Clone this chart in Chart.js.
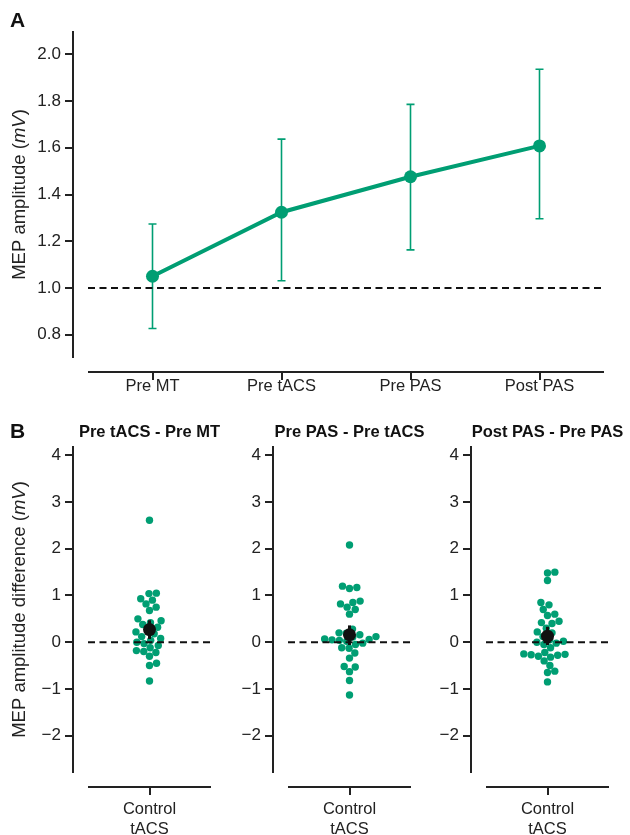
<!DOCTYPE html>
<html><head><meta charset="utf-8">
<script src="https://cdn.jsdelivr.net/npm/chart.js@4"></script>
<style>
body{margin:0;background:#fff;}
#wrap{position:relative;width:630px;height:835px;overflow:hidden;background:#fff;}
canvas{position:absolute;}
</style></head><body>
<div id="wrap">
<canvas id="cA" width="630" height="410" style="left:0;top:0"></canvas>
<canvas id="cB1" width="240" height="435" style="left:0;top:400px"></canvas>
<canvas id="cB2" width="240" height="435" style="left:200px;top:400px"></canvas>
<canvas id="cB3" width="232" height="435" style="left:398px;top:400px"></canvas>
</div>
<script>
// ---------- Data ----------
const A_CATEGORIES = ['Pre MT', 'Pre tACS', 'Pre PAS', 'Post PAS'];
const A_MEAN = [1.05, 1.324, 1.476, 1.608];
const A_LOW = [0.826, 1.031, 1.163, 1.296];
const A_HIGH = [1.274, 1.637, 1.786, 1.936];
const A_YTICKS = [0.8, 1.0, 1.2, 1.4, 1.6, 1.8, 2.0];
const A_YMIN = 0.7, A_YMAX = 2.1;
const A_BASELINE = 1.0;

const B_TITLES = ['Pre tACS - Pre MT', 'Pre PAS - Pre tACS', 'Post PAS - Pre PAS'];
const B_GROUP = ['Control', 'tACS'];
const B_DIFF1 = [2.61, 1.05, 1.04, 0.93, 0.90, 0.82, 0.75, 0.68, 0.50, 0.46, 0.42, 0.38, 0.32, 0.27, 0.22, 0.18, 0.12, 0.08, 0.04, 0.00, -0.03, -0.07, -0.12, -0.18, -0.20, -0.22, -0.30, -0.45, -0.50, -0.83];
const B_DIFF2 = [2.08, 1.20, 1.17, 1.15, 0.88, 0.85, 0.82, 0.75, 0.70, 0.60, 0.28, 0.20, 0.19, 0.16, 0.12, 0.11, 0.07, 0.06, 0.05, 0.04, 0.02, -0.02, -0.05, -0.12, -0.13, -0.23, -0.34, -0.52, -0.53, -0.63, -0.82, -1.13];
const B_DIFF3 = [1.50, 1.48, 1.32, 0.85, 0.80, 0.70, 0.60, 0.57, 0.45, 0.42, 0.40, 0.30, 0.22, 0.20, 0.12, 0.05, 0.02, 0.00, -0.02, -0.05, -0.12, -0.22, -0.25, -0.26, -0.27, -0.28, -0.30, -0.32, -0.40, -0.50, -0.62, -0.65, -0.85];
const B_MEAN = [0.27, 0.16, 0.13];
const B_CI_LOW = [0.07, -0.06, -0.06];
const B_CI_HIGH = [0.47, 0.36, 0.33];
const B_YTICKS = [-2, -1, 0, 1, 2, 3, 4];
const B_YMIN = -2.8, B_YMAX = 4.2;
const B_BASELINE = 0;

// ---------- Style ----------
const GREEN = '#009E73';
const INK = '#222222';
const FONT = '"Liberation Sans", Arial, Helvetica, sans-serif';
Chart.defaults.font.family = FONT;
Chart.defaults.color = INK;

function drawSpines(chart, yTicks) {
  const {ctx, chartArea: a, scales: {x, y}} = chart;
  ctx.save();
  ctx.strokeStyle = INK; ctx.lineWidth = 2;
  const sx = a.left - 15, sy = a.bottom + 14;
  ctx.beginPath();
  ctx.moveTo(sx, y.getPixelForValue(y.max)); ctx.lineTo(sx, y.getPixelForValue(y.min));
  yTicks.forEach(v => { const py = Math.round(y.getPixelForValue(v)); ctx.moveTo(sx - 8, py); ctx.lineTo(sx, py); });
  ctx.moveTo(a.left, sy); ctx.lineTo(a.right, sy);
  x.ticks.forEach((t, i) => { const px = Math.round(x.getPixelForTick(i)); ctx.moveTo(px, sy); ctx.lineTo(px, sy + 8); });
  ctx.stroke();
  ctx.restore();
}
function drawRotatedTitle(ctx, cx, cy, parts, size) {
  ctx.save();
  ctx.translate(cx, cy); ctx.rotate(-Math.PI / 2);
  const fonts = parts.map(p => (p.italic ? 'italic ' : '') + size + 'px ' + FONT);
  let total = 0;
  const w = parts.map((p, i) => { ctx.font = fonts[i]; const m = ctx.measureText(p.text).width; total += m; return m; });
  let x = -total / 2;
  ctx.fillStyle = INK; ctx.textBaseline = 'middle'; ctx.textAlign = 'left';
  parts.forEach((p, i) => { ctx.font = fonts[i]; ctx.fillText(p.text, x, 0); x += w[i]; });
  ctx.restore();
}
function drawBaseline(chart, v) {
  const {ctx, chartArea: a, scales: {y}} = chart;
  const py = Math.round(y.getPixelForValue(v));
  ctx.save();
  ctx.strokeStyle = '#111'; ctx.lineWidth = 2; ctx.setLineDash([7, 4.5]);
  ctx.beginPath(); ctx.moveTo(a.left, py); ctx.lineTo(a.right, py); ctx.stroke();
  ctx.restore();
}
function panelLetter(ctx, t, x, y) {
  ctx.save(); ctx.font = 'bold 21px ' + FONT; ctx.fillStyle = '#111';
  ctx.textBaseline = 'middle'; ctx.textAlign = 'left'; ctx.fillText(t, x, y); ctx.restore();
}
function noEdgePad(s) { s.paddingTop = 0; s.paddingBottom = 0; s.paddingLeft = 0; s.paddingRight = 0; }

// ---------- Panel A ----------
const pluginA = {
  id: 'pA',
  beforeDatasetsDraw(chart) {
    const {ctx, scales: {y}} = chart;
    const meta = chart.getDatasetMeta(0);
    ctx.save();
    ctx.strokeStyle = GREEN; ctx.lineWidth = 1.6;
    ctx.beginPath();
    A_MEAN.forEach((m, i) => {
      const px = meta.data[i].x;
      const lo = y.getPixelForValue(A_LOW[i]), hi = y.getPixelForValue(A_HIGH[i]);
      ctx.moveTo(px, lo); ctx.lineTo(px, hi);
      ctx.moveTo(px - 4, lo); ctx.lineTo(px + 4, lo);
      ctx.moveTo(px - 4, hi); ctx.lineTo(px + 4, hi);
    });
    ctx.stroke(); ctx.restore();
    drawBaseline(chart, A_BASELINE);
  },
  afterDraw(chart) {
    drawSpines(chart, A_YTICKS);
    const a = chart.chartArea;
    drawRotatedTitle(chart.ctx, 20, (a.top + a.bottom) / 2,
      [{text: 'MEP amplitude ('}, {text: 'mV', italic: true}, {text: ')'}], 18.5);
    panelLetter(chart.ctx, 'A', 10, 21);
  }
};
new Chart(document.getElementById('cA'), {
  type: 'line',
  data: {
    labels: A_CATEGORIES,
    datasets: [{
      data: A_MEAN, borderColor: GREEN, backgroundColor: GREEN, borderWidth: 4,
      pointRadius: 6.5, pointBackgroundColor: GREEN, pointBorderWidth: 0, tension: 0
    }]
  },
  options: {
    responsive: false, animation: false,
    layout: {padding: {left: 0, top: 31, right: 26, bottom: 0}},
    plugins: {legend: {display: false}, tooltip: {enabled: false}},
    scales: {
      x: {
        type: 'category', offset: true,
        grid: {display: false}, border: {display: false},
        ticks: {padding: 11, font: {size: 16.5}, color: INK},
        afterFit(s) { s.height = 52; noEdgePad(s); }
      },
      y: {
        min: A_YMIN, max: A_YMAX,
        grid: {display: false}, border: {display: false},
        afterBuildTicks(s) { s.ticks = A_YTICKS.map(v => ({value: v})); },
        ticks: {padding: 19, font: {size: 17}, color: INK, callback: v => Number(v).toFixed(1)},
        afterFit(s) { s.width = 88; noEdgePad(s); }
      }
    }
  },
  plugins: [pluginA]
});

// ---------- Panel B ----------
function swarmOffsets(values, yScale, d) {
  const order = values.map((v, i) => i).sort((p, q) => values[p] - values[q]);
  const placed = [], out = new Array(values.length);
  for (const i of order) {
    const py = yScale.getPixelForValue(values[i]);
    const near = placed.filter(p => Math.abs(p.y - py) < d);
    const cands = [0];
    near.forEach(p => { const dx = Math.sqrt(d * d - (p.y - py) ** 2); cands.push(p.x + dx, p.x - dx); });
    cands.sort((p, q) => Math.abs(p) - Math.abs(q));
    let chosen = cands[cands.length - 1];
    for (const c of cands) {
      if (near.every(p => (p.x - c) ** 2 + (p.y - py) ** 2 >= d * d - 0.01)) { chosen = c; break; }
    }
    placed.push({x: chosen, y: py});
    out[i] = chosen;
  }
  return out;
}

const B_SERIES = [B_DIFF1, B_DIFF2, B_DIFF3];
const B_RIGHTPAD = [29, 29, 21];
['cB1', 'cB2', 'cB3'].forEach((id, k) => {
  const plug = {
    id: 'pB' + k,
    afterDatasetsDraw(chart) {
      const {ctx, scales: {x, y}} = chart;
      const px = x.getPixelForValue(0);
      ctx.save(); ctx.strokeStyle = '#111'; ctx.lineWidth = 3;
      ctx.beginPath(); ctx.moveTo(px, y.getPixelForValue(B_CI_LOW[k])); ctx.lineTo(px, y.getPixelForValue(B_CI_HIGH[k])); ctx.stroke();
      ctx.restore();
    },
    afterDraw(chart) {
      drawSpines(chart, B_YTICKS);
      const {ctx, chartArea: a} = chart;
      ctx.save(); ctx.font = 'bold 16.5px ' + FONT; ctx.fillStyle = '#111';
      ctx.textAlign = 'center'; ctx.textBaseline = 'middle';
      ctx.fillText(B_TITLES[k], (a.left + a.right) / 2, a.top - 14);
      ctx.restore();
      if (k === 0) {
        drawRotatedTitle(ctx, 20, (a.top + a.bottom) / 2,
          [{text: 'MEP amplitude difference ('}, {text: 'mV', italic: true}, {text: ')'}], 18.5);
        panelLetter(ctx, 'B', 10, a.top - 14);
      }
    }
  };
  const chart = new Chart(document.getElementById(id), {
    type: 'scatter',
    data: {
      datasets: [
        {data: [{x: 0, y: B_MEAN[k]}], pointRadius: 6.5, backgroundColor: '#111', borderWidth: 0, order: 0},
        {type: 'line', data: [{x: -1, y: B_BASELINE}, {x: 1, y: B_BASELINE}], borderColor: '#111', borderWidth: 2,
          borderDash: [7, 4.5], pointRadius: 0, order: 1},
        {data: B_SERIES[k].map(v => ({x: 0, y: v})), pointRadius: 3.7, backgroundColor: GREEN, borderWidth: 0, order: 2}
      ]
    },
    options: {
      responsive: false, animation: false,
      layout: {padding: {left: 0, top: 46, right: B_RIGHTPAD[k], bottom: 0}},
      plugins: {legend: {display: false}, tooltip: {enabled: false}},
      scales: {
        x: {
          type: 'linear', min: -1, max: 1,
          grid: {display: false}, border: {display: false},
          afterBuildTicks(s) { s.ticks = [{value: 0}]; },
          ticks: {padding: 18, font: {size: 16.5, lineHeight: 1.22}, color: INK, callback: () => B_GROUP},
          afterFit(s) { s.height = 62; noEdgePad(s); }
        },
        y: {
          min: B_YMIN, max: B_YMAX,
          grid: {display: false}, border: {display: false},
          afterBuildTicks(s) { s.ticks = B_YTICKS.map(v => ({value: v})); },
          ticks: {padding: 19, font: {size: 17}, color: INK, callback: v => (v < 0 ? '\u2212' + Math.abs(v) : String(v))},
          afterFit(s) { s.width = 88; noEdgePad(s); }
        }
      }
    },
    plugins: [plug]
  });
  const xs = chart.scales.x, ys = chart.scales.y;
  const offs = swarmOffsets(B_SERIES[k], ys, 7.4);
  const x0 = xs.getPixelForValue(0);
  chart.data.datasets[2].data = B_SERIES[k].map((v, i) => ({x: xs.getValueForPixel(x0 + offs[i]), y: v}));
  chart.update('none');
});
</script>
</body></html>
